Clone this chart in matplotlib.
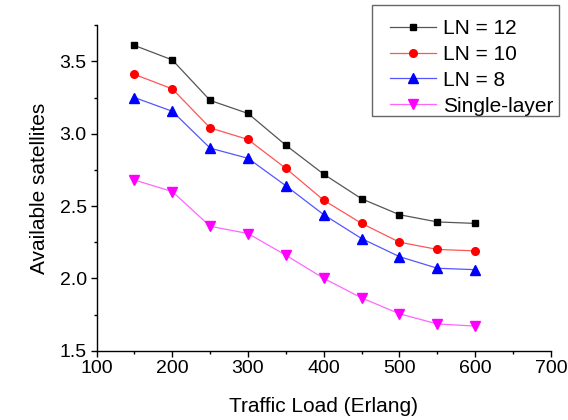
import matplotlib
matplotlib.use("Agg")
import matplotlib.pyplot as plt
from matplotlib.patches import Rectangle
from matplotlib.ticker import MultipleLocator, FormatStrFormatter

plt.rcParams['font.family'] = ['Liberation Sans', 'DejaVu Sans']

# traffic load (Erlang) and mean number of available satellites
load = [150, 200, 250, 300, 350, 400, 450, 500, 550, 600]
ln12 = [3.61, 3.51, 3.23, 3.14, 2.92, 2.72, 2.55, 2.44, 2.39, 2.38]
ln10 = [3.41, 3.31, 3.04, 2.96, 2.76, 2.54, 2.38, 2.25, 2.20, 2.19]
ln8 = [3.25, 3.155, 2.90, 2.83, 2.64, 2.44, 2.275, 2.15, 2.07, 2.06]
single = [2.68, 2.60, 2.36, 2.31, 2.16, 2.00, 1.865, 1.755, 1.685, 1.67]

labels = ['LN = 12', 'LN = 10', 'LN = 8', 'Single-layer']

W, H = 568, 420
fig = plt.figure(figsize=(W / 100, H / 100), dpi=100)
ax = fig.add_axes([0.170, 0.165, 0.800, 0.775])

series = [
    (ln12, 's', 'black', '#555555', 5.0),
    (ln10, 'o', 'red', '#ff5555', 5.5),
    (ln8, '^', 'blue', '#5555ff', 7.0),
    (single, 'v', 'magenta', '#ff66ff', 7.0),
]
for (vals, mk, col, lcol, ms), lab in zip(series, labels):
    ax.plot(load, vals, color=lcol, lw=0.9, marker=mk, ms=ms,
            markerfacecolor=col, markeredgecolor=col, label=lab)

ax.set_xlim(100, 700)
ax.set_ylim(1.5, 3.75)
ax.xaxis.set_major_locator(MultipleLocator(100))
ax.xaxis.set_minor_locator(MultipleLocator(50))
ax.yaxis.set_major_locator(MultipleLocator(0.5))
ax.yaxis.set_minor_locator(MultipleLocator(0.25))
ax.yaxis.set_major_formatter(FormatStrFormatter('%.1f'))

for side in ('top', 'right'):
    ax.spines[side].set_visible(False)
for side in ('left', 'bottom'):
    ax.spines[side].set_linewidth(1.0)
ax.tick_params(which='major', direction='out', length=4.5, width=1.0,
               labelsize=14, pad=2.5)
ax.tick_params(which='minor', direction='out', length=2.5, width=1.0)

ax.set_xlabel('Traffic Load (Erlang)', fontsize=15, labelpad=14)
ax.set_ylabel('Available satellites', fontsize=15, labelpad=8)

# legend entries, with a separate frame so the left margin can be wider
leg = ax.legend(loc='upper left', bbox_to_anchor=(390 / W, 1 - 19 / H),
                bbox_transform=fig.transFigure, fontsize=15, frameon=False,
                borderpad=0.0, labelspacing=0.33, handlelength=2.2,
                handletextpad=0.33, borderaxespad=0.0)
fig.patches.append(Rectangle((371.5 / W, 1 - 116 / H), 187.5 / W, 111 / H,
                             transform=fig.transFigure, fill=False,
                             edgecolor='#666666', lw=1.0))

fig.savefig('out.png', dpi=100)
